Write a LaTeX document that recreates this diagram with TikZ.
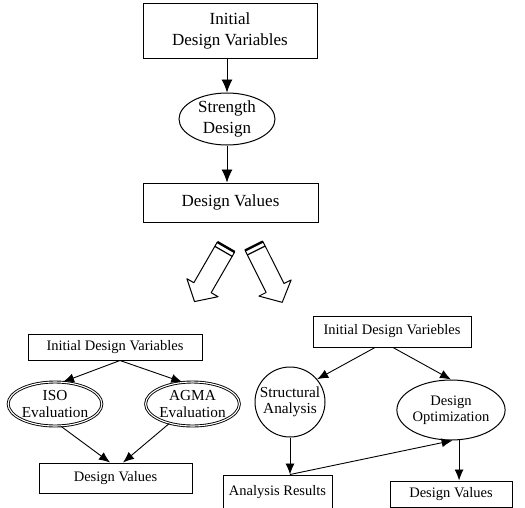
\documentclass[tikz,border=0pt]{standalone}
\usepackage{fontspec}
\setmainfont{Liberation Serif}
\usetikzlibrary{shapes.geometric,arrows.meta}
\tikzset{
  box/.style={draw, rectangle, line width=1pt, inner sep=0pt, align=center},
  oval/.style={draw, ellipse, line width=1pt, inner sep=0pt, align=center},
  dbloval/.style={draw, ellipse, line width=0.9pt, double, double distance=1.1pt, inner sep=0pt, align=center},
  roundnode/.style={draw, circle, line width=1pt, inner sep=0pt, align=center},
  bigarr/.style={-{Latex[length=13pt,width=11pt]}, line width=0.9pt},
  arr/.style={-{Latex[length=11pt,width=9pt]}, line width=0.9pt},
  hollow/.style={draw, line width=1pt, fill=white, line join=round},
  topfont/.style={font=\fontsize{17}{21}\selectfont},
  lowfont/.style={font=\fontsize{14.5}{16}\selectfont},
  ovalfont/.style={font=\fontsize{15.3}{16.5}\selectfont}
}
\begin{document}
\begin{tikzpicture}[x=1pt,y=-1pt]
\useasboundingbox (0,0) rectangle (525,507);
\clip (0,0) rectangle (525,507);
% top part
\node[box, topfont, minimum width=174pt, minimum height=55pt] (t1) at (230,30.5) {Initial\\Design Variables};
\node[oval, topfont, minimum width=96pt, minimum height=52pt] (t2) at (227,119) {Strength\\Design};
\node[box, topfont, minimum width=175pt, minimum height=39pt] (t3) at (230.5,202.5) {Design Values};
\draw[bigarr] (t2.north |- t1.south) -- (t2.north);
\draw[bigarr] (t2.south) -- (t2.south |- t3.north);
% hollow arrows
\begin{scope}[shift={(226,247)}, rotate=-120]
  \path[hollow] (0,-10) -- (47,-10) -- (47,-18) -- (63,0) -- (47,18) -- (47,10) -- (0,10) -- cycle;
  \draw[line width=2.4pt] (0,-10) -- (0,10);
  \draw[line width=1.2pt] (5,-10) -- (5,10);
\end{scope}
\begin{scope}[shift={(254,246)}, rotate=-63.4]
  \path[hollow] (0,-10) -- (47,-10) -- (47,-18) -- (63,0) -- (47,18) -- (47,10) -- (0,10) -- cycle;
  \draw[line width=2.4pt] (0,-10) -- (0,10);
  \draw[line width=1.2pt] (5,-10) -- (5,10);
\end{scope}
% bottom left
\node[box, lowfont, minimum width=174pt, minimum height=26pt] (l1) at (115,347) {Initial Design Variables};
\node[dbloval, ovalfont, minimum width=90pt, minimum height=44pt] (l2) at (55,404) {ISO\\Evaluation};
\node[dbloval, ovalfont, minimum width=90pt, minimum height=44pt] (l3) at (192.5,404) {AGMA\\Evaluation};
\node[box, lowfont, minimum width=153pt, minimum height=30pt] (l4) at (115.5,478) {Design Values};
\draw[arr] ([xshift=5pt]l1.south) -- (l2.70);
\draw[arr] ([xshift=5pt]l1.south) -- (l3.115);
\draw[arr] (l2.-75) -- ([xshift=-5.5pt]l4.north);
\draw[arr] (l3.-140) -- ([xshift=7.5pt]l4.north);
% bottom right
\node[box, lowfont, minimum width=158pt, minimum height=31pt] (r1) at (392,331.5) {Initial Design Variebles};
\node[roundnode, ovalfont, minimum size=70pt] (r2) at (290,402) {Structural\\Analysis};
\node[oval, lowfont, minimum width=78pt, minimum height=60pt] (r3) at (451,410) {Design\\Optimization};
\node[box, lowfont, minimum width=109pt, minimum height=34pt] (r4) at (277.5,492) {Analysis Results};
\node[box, lowfont, minimum width=122pt, minimum height=26pt] (r5) at (451,494) {Design Values};
\draw[arr] ([xshift=-17pt]r1.south) -- (r2.40);
\draw[arr] ([xshift=1pt]r1.south) -- (r3.north);
\draw[arr] (r2.south) -- (r2.south |- r4.north);
\draw[arr] (r2.south |- r4.north) -- (r3.-87);
\draw[arr] (r3.-75) -- (r3.-75 |- r5.north);
\end{tikzpicture}
\end{document}
